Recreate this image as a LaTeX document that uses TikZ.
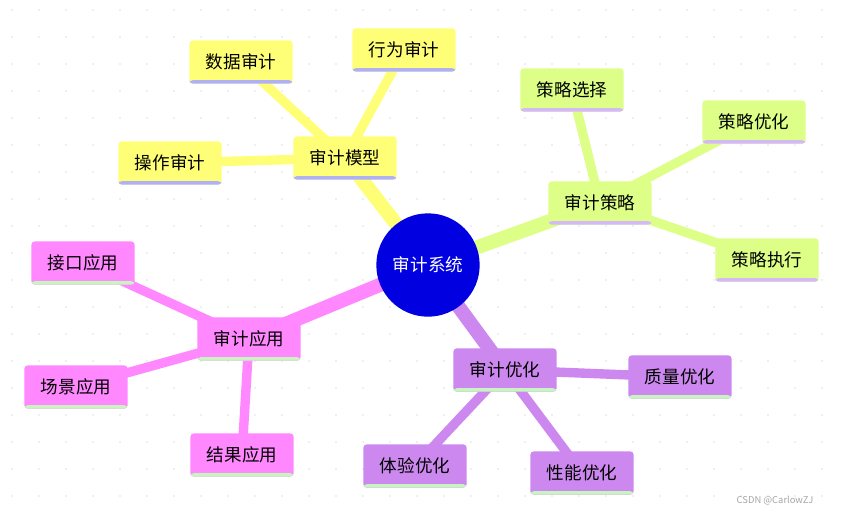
\documentclass[tikz,border=0pt]{standalone}
\usepackage{fontspec}
\setmainfont{Noto Sans CJK SC}
\usetikzlibrary{positioning}
\definecolor{modelyellow}{HTML}{FFFF77}
\definecolor{stratgreen}{HTML}{DDFF88}
\definecolor{apppink}{HTML}{FF88FF}
\definecolor{optpurple}{HTML}{CC88EE}
\definecolor{stripeblue}{HTML}{B0B0F8}
\definecolor{stripelilac}{HTML}{D4B8F8}
\definecolor{stripegreen}{HTML}{C8F4C0}
\definecolor{hubblue}{HTML}{0000E0}
\pgfdeclarelayer{back}
\pgfdeclarelayer{branches}
\pgfsetlayers{back,branches,main}

\begin{document}
\begin{tikzpicture}[
        x=0.03cm, y=-0.03cm,
        topic/.style 2 args={rectangle, fill=#1, rounded corners=3pt, minimum width=3.1cm, minimum height=1.3cm,
            font=\fontsize{15}{17}\selectfont, inner sep=2pt,
            path picture={\fill[#2] (path picture bounding box.south west) rectangle ([yshift=3pt]path picture bounding box.south east);}},
        hub/.style={circle, fill=hubblue, minimum size=3.1cm, text=white, font=\fontsize{15}{17}\selectfont},
        mainline/.style={line width=12pt},
        subline/.style={line width=8pt}
    ]
        % Frame and dot grid
        \useasboundingbox (0,0) rectangle (845,518);
        \begin{pgfonlayer}{back}
            \fill[white] (0,0) rectangle (845,518);
            \foreach \gx in {12,39,...,845}
                \foreach \gy in {10,37,...,518}
                    \fill[black!12] (\gx,\gy) circle (0.8pt);
        \end{pgfonlayer}

        % Hub
        \node[hub] (sys) at (428,265) {审计系统};

        % Main topics
        \node[topic={modelyellow}{stripeblue}] (model) at (345,158) {审计模型};
        \node[topic={stratgreen}{stripelilac}] (strat) at (600,203) {审计策略};
        \node[topic={apppink}{stripegreen}] (app) at (249,339) {审计应用};
        \node[topic={optpurple}{stripegreen}] (opt) at (505,370) {审计优化};

        % Sub topics
        \node[topic={modelyellow}{stripeblue}] (data) at (241,62) {数据审计};
        \node[topic={modelyellow}{stripeblue}] (behav) at (404,50) {行为审计};
        \node[topic={modelyellow}{stripeblue}] (oper) at (170,163) {操作审计};

        \node[topic={stratgreen}{stripelilac}] (choose) at (572,90) {策略选择};
        \node[topic={stratgreen}{stripelilac}] (tune) at (754,122) {策略优化};
        \node[topic={stratgreen}{stripelilac}] (exec) at (767,260) {策略执行};

        \node[topic={apppink}{stripegreen}] (iface) at (83,263) {接口应用};
        \node[topic={apppink}{stripegreen}] (scene) at (76,387) {场景应用};
        \node[topic={apppink}{stripegreen}] (result) at (242,455) {结果应用};

        \node[topic={optpurple}{stripegreen}] (quality) at (680,377) {质量优化};
        \node[topic={optpurple}{stripegreen}] (exper) at (415,466) {体验优化};
        \node[topic={optpurple}{stripegreen}] (perf) at (582,473) {性能优化};

        % Branches (behind nodes)
        \begin{pgfonlayer}{branches}
            \draw[mainline, modelyellow] (sys.center) -- (model.center);
            \draw[mainline, stratgreen] (sys.center) -- (strat.center);
            \draw[mainline, apppink] (sys.center) -- (app.center);
            \draw[mainline, optpurple] (sys.center) -- (opt.center);

            \draw[subline, modelyellow] (model.center) -- (data.center);
            \draw[subline, modelyellow] (model.center) -- (behav.center);
            \draw[subline, modelyellow] (model.center) -- (oper.center);

            \draw[subline, stratgreen] (strat.center) -- (choose.center);
            \draw[subline, stratgreen] (strat.center) -- (tune.center);
            \draw[subline, stratgreen] (strat.center) -- (exec.center);

            \draw[subline, apppink] (app.center) -- (iface.center);
            \draw[subline, apppink] (app.center) -- (scene.center);
            \draw[subline, apppink] (app.center) -- (result.center);

            \draw[subline, optpurple] (opt.center) -- (quality.center);
            \draw[subline, optpurple] (opt.center) -- (exper.center);
            \draw[subline, optpurple] (opt.center) -- (perf.center);
        \end{pgfonlayer}

        % Watermark
        \node[text=black!35, font=\fontsize{8}{10}\selectfont] (mark) at (775,501) {CSDN @CarlowZJ};
    \end{tikzpicture}
\end{document}
